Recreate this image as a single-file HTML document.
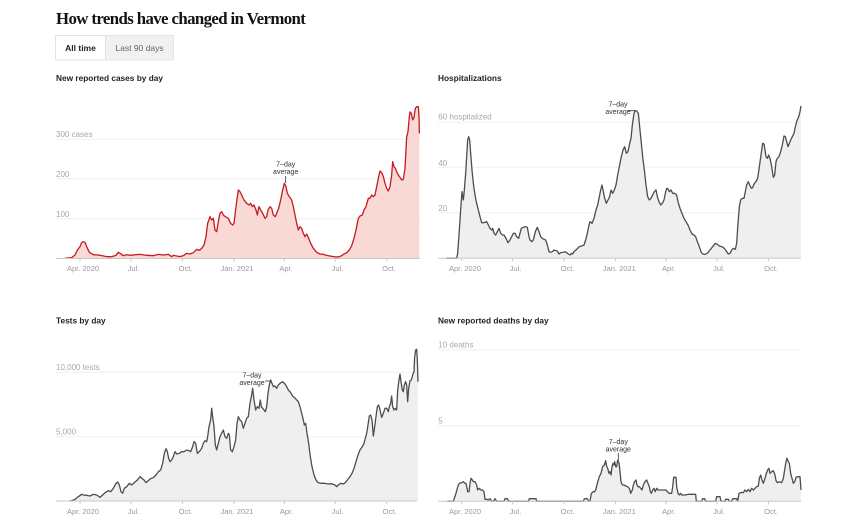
<!DOCTYPE html>
<html><head><meta charset="utf-8">
<style>
html,body{margin:0;padding:0;background:#fff;}
body{width:860px;height:528px;overflow:hidden;position:relative;font-family:"Liberation Sans",Arial,sans-serif;}
svg{position:absolute;left:0;top:0;}
.title{font-family:"Liberation Serif",serif;font-weight:bold;font-size:16.8px;letter-spacing:-0.6px;fill:#121212;}
.st{font-weight:bold;font-size:8.3px;fill:#222;}
.yl{font-size:8px;fill:#a8a8a8;}
.xl{font-size:7.5px;fill:#999;text-anchor:middle;}
.an{font-size:7px;fill:#333;text-anchor:middle;}
.grid{stroke:#efefef;stroke-width:1;}
.base{stroke:#c8c8c8;stroke-width:1;}
.tick{stroke:#c8c8c8;stroke-width:1;}
.ln{fill:none;stroke-width:1.3;stroke-linejoin:round;}
</style></head><body>
<svg width="860" height="528" viewBox="0 0 860 528" xmlns="http://www.w3.org/2000/svg">
<text x="56" y="24" class="title">How trends have changed in Vermont</text>
<!-- buttons -->
<rect x="55.5" y="35.5" width="118" height="24.5" fill="#f1f1f1" stroke="#e6e6e6"/>
<rect x="55.5" y="35.5" width="50" height="24.5" fill="#fff" stroke="#e2e2e2"/>
<text x="80.5" y="51" font-size="8.5" font-weight="bold" fill="#222" text-anchor="middle">All time</text>
<text x="139.5" y="51" font-size="8.5" fill="#666" text-anchor="middle">Last 90 days</text>

<!-- Chart 1 cases -->
<text x="56" y="81" class="st">New reported cases by day</text>
<line x1="56" x2="420" y1="139.3" y2="139.3" class="grid"/>
<line x1="56" x2="420" y1="178.7" y2="178.7" class="grid"/>
<line x1="56" x2="420" y1="218.7" y2="218.7" class="grid"/>
<text x="56" y="137" class="yl">300 cases</text>
<text x="56" y="177" class="yl">200</text>
<text x="56" y="217" class="yl">100</text>
<g transform="translate(40,90) scale(0.333333)">
<path fill="#f8d9d6" d="M75,505 L95,503 105,495 112,480 120,470 125,458 130,455 135,457 140,470 148,487 160,494 175,495 185,497 200,500 215,500 228,496 235,487 240,490 250,497 262,494 270,496 280,495 300,493 320,496 340,497 355,493 370,495 385,493 395,500 400,496 410,498 420,500 430,497 440,490 450,492 460,488 470,478 478,481 485,475 492,465 498,440 503,400 510,380 515,390 520,385 525,420 530,425 535,395 540,370 545,365 550,375 556,380 565,385 572,400 578,405 582,400 588,350 595,300 600,305 605,315 612,330 620,340 627,345 632,340 637,350 642,345 648,360 652,375 657,350 662,360 668,370 675,385 680,380 684,360 690,350 695,355 700,375 706,380 710,370 716,355 722,330 728,300 733,280 738,290 742,310 748,320 755,330 760,350 765,375 770,400 775,420 780,410 785,415 790,430 795,440 800,432 806,445 812,460 820,475 830,487 840,492 850,493 860,496 870,498 880,500 895,501 905,497 912,492 920,488 928,480 935,467 942,445 948,420 955,385 960,378 967,375 972,360 978,350 985,325 990,325 995,315 1000,320 1005,315 1010,290 1015,265 1020,243 1025,248 1030,260 1035,280 1040,295 1045,303 1050,290 1055,255 1058,215 1062,230 1066,235 1070,245 1075,255 1080,262 1085,270 1090,268 1095,235 1100,140 1104,125 1108,80 1110,66 1114,70 1118,90 1122,82 1126,55 1130,50 1135,50 1137,80 1138,130 L1138,505 Z"/>
<path class="ln" stroke="#c8191e" vector-effect="non-scaling-stroke" d="M75,505 L95,503 105,495 112,480 120,470 125,458 130,455 135,457 140,470 148,487 160,494 175,495 185,497 200,500 215,500 228,496 235,487 240,490 250,497 262,494 270,496 280,495 300,493 320,496 340,497 355,493 370,495 385,493 395,500 400,496 410,498 420,500 430,497 440,490 450,492 460,488 470,478 478,481 485,475 492,465 498,440 503,400 510,380 515,390 520,385 525,420 530,425 535,395 540,370 545,365 550,375 556,380 565,385 572,400 578,405 582,400 588,350 595,300 600,305 605,315 612,330 620,340 627,345 632,340 637,350 642,345 648,360 652,375 657,350 662,360 668,370 675,385 680,380 684,360 690,350 695,355 700,375 706,380 710,370 716,355 722,330 728,300 733,280 738,290 742,310 748,320 755,330 760,350 765,375 770,400 775,420 780,410 785,415 790,430 795,440 800,432 806,445 812,460 820,475 830,487 840,492 850,493 860,496 870,498 880,500 895,501 905,497 912,492 920,488 928,480 935,467 942,445 948,420 955,385 960,378 967,375 972,360 978,350 985,325 990,325 995,315 1000,320 1005,315 1010,290 1015,265 1020,243 1025,248 1030,260 1035,280 1040,295 1045,303 1050,290 1055,255 1058,215 1062,230 1066,235 1070,245 1075,255 1080,262 1085,270 1090,268 1095,235 1100,140 1104,125 1108,80 1110,66 1114,70 1118,90 1122,82 1126,55 1130,50 1135,50 1137,80 1138,130"/>
</g>
<line x1="56" x2="420" y1="258.5" y2="258.5" class="base"/>
<g class="tick">
<line x1="80" x2="80" y1="258.5" y2="261.5"/><line x1="130.9" x2="130.9" y1="258.5" y2="261.5"/><line x1="182.4" x2="182.4" y1="258.5" y2="261.5"/><line x1="233.9" x2="233.9" y1="258.5" y2="261.5"/><line x1="284.3" x2="284.3" y1="258.5" y2="261.5"/><line x1="335.2" x2="335.2" y1="258.5" y2="261.5"/><line x1="386.7" x2="386.7" y1="258.5" y2="261.5"/>
</g>
<text x="83" y="271" class="xl">Apr. 2020</text><text x="133.5" y="271" class="xl">Jul.</text><text x="185.5" y="271" class="xl">Oct.</text><text x="237" y="271" class="xl">Jan. 2021</text><text x="286" y="271" class="xl">Apr.</text><text x="337.5" y="271" class="xl">Jul.</text><text x="389" y="271" class="xl">Oct.</text>
<text x="285.7" y="166.5" class="an">7–day</text><text x="285.7" y="173.8" class="an">average</text>
<line x1="285.7" x2="285.7" y1="176" y2="183" stroke="#333" stroke-width="0.8"/>

<!-- Chart 2 hospitalizations -->
<text x="438" y="81" class="st">Hospitalizations</text>
<line x1="438" x2="801" y1="122.3" y2="122.3" class="grid"/>
<line x1="438" x2="801" y1="167.3" y2="167.3" class="grid"/>
<line x1="438" x2="801" y1="212.7" y2="212.7" class="grid"/>
<text x="438.3" y="119.5" class="yl">60 hospitalized</text>
<text x="438.3" y="166" class="yl">40</text>
<text x="438.3" y="211" class="yl">20</text>
<g transform="translate(430,90) scale(0.333333)">
<path id="h" fill="#efefef" d="M50,505 L80,505 83,490 88,420 92,360 96,305 100,330 103,300 107,250 110,200 113,150 116,140 119,150 122,190 126,240 130,280 135,315 140,340 145,360 150,380 155,398 162,398 170,395 175,405 180,415 185,420 188,415 192,430 197,435 202,425 207,415 212,430 218,435 222,435 228,445 234,458 240,450 245,440 250,430 255,430 260,440 266,445 270,430 274,415 280,412 287,410 292,412 297,440 300,450 305,455 310,450 316,425 322,412 327,425 332,440 337,445 342,448 347,450 352,465 357,485 362,487 367,485 372,480 377,482 382,483 387,492 392,488 400,487 405,485 410,488 415,492 420,495 424,490 428,492 432,485 438,480 443,475 448,470 455,468 462,465 467,450 472,430 476,410 480,395 486,400 492,385 498,360 503,345 508,320 512,300 516,285 520,305 524,325 529,340 534,330 539,320 543,300 548,310 553,300 558,285 563,255 568,230 574,200 579,180 584,170 589,190 594,185 598,165 603,145 607,105 612,70 615,62 620,63 625,70 628,100 633,150 638,200 643,240 648,285 653,320 658,330 663,325 668,315 673,305 678,300 682,320 687,335 692,345 697,340 702,330 706,310 710,295 714,297 718,305 723,300 728,310 734,310 740,315 744,335 750,355 756,370 762,385 768,395 774,405 780,420 786,432 792,435 797,440 802,455 808,470 813,485 818,492 825,493 832,490 840,480 848,470 856,460 862,463 868,468 874,470 880,472 885,478 890,485 895,492 900,490 905,480 910,475 916,478 920,460 924,400 928,350 932,330 937,325 942,325 946,305 950,285 955,275 959,285 964,295 968,293 973,280 978,275 983,265 988,230 993,195 998,160 1002,162 1005,180 1008,200 1012,205 1016,195 1020,205 1025,230 1030,262 1034,255 1038,215 1042,205 1047,200 1052,185 1057,165 1062,138 1066,140 1070,155 1074,170 1078,160 1082,150 1087,140 1092,130 1096,110 1100,95 1106,80 1110,65 1113,48 L1113,505 Z"/>
<path class="ln" stroke="#4d4d4d" vector-effect="non-scaling-stroke" d="M50,505 L80,505 83,490 88,420 92,360 96,305 100,330 103,300 107,250 110,200 113,150 116,140 119,150 122,190 126,240 130,280 135,315 140,340 145,360 150,380 155,398 162,398 170,395 175,405 180,415 185,420 188,415 192,430 197,435 202,425 207,415 212,430 218,435 222,435 228,445 234,458 240,450 245,440 250,430 255,430 260,440 266,445 270,430 274,415 280,412 287,410 292,412 297,440 300,450 305,455 310,450 316,425 322,412 327,425 332,440 337,445 342,448 347,450 352,465 357,485 362,487 367,485 372,480 377,482 382,483 387,492 392,488 400,487 405,485 410,488 415,492 420,495 424,490 428,492 432,485 438,480 443,475 448,470 455,468 462,465 467,450 472,430 476,410 480,395 486,400 492,385 498,360 503,345 508,320 512,300 516,285 520,305 524,325 529,340 534,330 539,320 543,300 548,310 553,300 558,285 563,255 568,230 574,200 579,180 584,170 589,190 594,185 598,165 603,145 607,105 612,70 615,62 620,63 625,70 628,100 633,150 638,200 643,240 648,285 653,320 658,330 663,325 668,315 673,305 678,300 682,320 687,335 692,345 697,340 702,330 706,310 710,295 714,297 718,305 723,300 728,310 734,310 740,315 744,335 750,355 756,370 762,385 768,395 774,405 780,420 786,432 792,435 797,440 802,455 808,470 813,485 818,492 825,493 832,490 840,480 848,470 856,460 862,463 868,468 874,470 880,472 885,478 890,485 895,492 900,490 905,480 910,475 916,478 920,460 924,400 928,350 932,330 937,325 942,325 946,305 950,285 955,275 959,285 964,295 968,293 973,280 978,275 983,265 988,230 993,195 998,160 1002,162 1005,180 1008,200 1012,205 1016,195 1020,205 1025,230 1030,262 1034,255 1038,215 1042,205 1047,200 1052,185 1057,165 1062,138 1066,140 1070,155 1074,170 1078,160 1082,150 1087,140 1092,130 1096,110 1100,95 1106,80 1110,65 1113,48"/>
</g>
<line x1="438" x2="801" y1="258.3" y2="258.3" class="base"/>
<g class="tick">
<line x1="461.7" x2="461.7" y1="258.3" y2="261.3"/><line x1="512.6" x2="512.6" y1="258.3" y2="261.3"/><line x1="564.1" x2="564.1" y1="258.3" y2="261.3"/><line x1="615.6" x2="615.6" y1="258.3" y2="261.3"/><line x1="666" x2="666" y1="258.3" y2="261.3"/><line x1="716.9" x2="716.9" y1="258.3" y2="261.3"/><line x1="768.4" x2="768.4" y1="258.3" y2="261.3"/>
</g>
<text x="465" y="271" class="xl">Apr. 2020</text><text x="515.5" y="271" class="xl">Jul.</text><text x="567.5" y="271" class="xl">Oct.</text><text x="619.3" y="271" class="xl">Jan. 2021</text><text x="668.7" y="271" class="xl">Apr.</text><text x="719" y="271" class="xl">Jul.</text><text x="771" y="271" class="xl">Oct.</text>
<text x="618" y="106.5" class="an">7–day</text><text x="618" y="114" class="an">average</text>
<line x1="628" x2="634.5" y1="110.7" y2="110.7" stroke="#333" stroke-width="0.8"/>

<!-- Chart 3 tests -->
<text x="56" y="323.5" class="st">Tests by day</text>
<line x1="56" x2="417" y1="372.3" y2="372.3" class="grid"/>
<line x1="56" x2="417" y1="436.8" y2="436.8" class="grid"/>
<text x="56" y="370" class="yl">10,000 tests</text>
<text x="56" y="434.7" class="yl">5,000</text>
<g transform="translate(40,310) scale(0.333333)">
<path fill="#efefef" d="M88,573 L95,572 105,568 115,560 125,553 130,555 140,556 150,558 160,553 170,555 180,562 188,555 195,548 205,542 212,545 220,535 228,520 233,516 238,525 243,545 248,550 253,535 260,530 268,520 275,525 283,518 292,510 300,500 306,505 312,510 318,518 325,512 333,505 340,503 348,495 355,485 362,480 368,460 373,430 378,416 382,425 386,445 390,455 395,450 400,440 405,425 410,432 418,430 425,425 432,425 440,420 447,422 452,425 458,410 462,395 467,400 472,430 478,425 485,415 490,400 495,392 500,395 503,380 507,350 512,330 515,295 518,320 522,350 526,405 530,420 535,400 540,380 545,370 550,360 555,380 560,385 565,370 568,375 572,420 577,425 582,410 587,390 591,340 595,320 600,330 605,335 610,355 615,340 620,325 625,320 630,280 635,255 638,235 642,270 647,300 652,290 657,295 661,270 664,290 668,295 672,300 676,305 680,290 684,250 688,225 692,210 696,220 700,230 705,228 710,235 715,225 720,220 728,215 735,222 740,230 745,240 750,245 756,255 760,260 766,265 770,270 775,275 780,290 785,310 790,330 793,345 797,340 801,370 806,400 811,440 816,470 822,495 828,510 834,518 845,520 855,520 865,522 875,521 885,525 890,530 895,525 902,520 910,522 916,518 922,510 930,500 936,490 942,475 948,455 954,435 960,420 967,410 972,400 976,385 980,370 984,345 988,318 992,315 996,330 1000,378 1004,350 1008,320 1012,290 1016,285 1020,300 1025,322 1030,310 1035,295 1040,295 1045,305 1048,290 1052,280 1055,258 1058,290 1062,300 1066,295 1070,300 1073,240 1077,210 1080,192 1083,215 1087,240 1090,245 1093,225 1097,215 1100,225 1103,275 1106,235 1110,212 1114,210 1118,195 1122,185 1124,140 1127,120 1130,118 1132,150 1134,215 L1134,573 Z"/>
<path class="ln" stroke="#4d4d4d" vector-effect="non-scaling-stroke" d="M88,573 L95,572 105,568 115,560 125,553 130,555 140,556 150,558 160,553 170,555 180,562 188,555 195,548 205,542 212,545 220,535 228,520 233,516 238,525 243,545 248,550 253,535 260,530 268,520 275,525 283,518 292,510 300,500 306,505 312,510 318,518 325,512 333,505 340,503 348,495 355,485 362,480 368,460 373,430 378,416 382,425 386,445 390,455 395,450 400,440 405,425 410,432 418,430 425,425 432,425 440,420 447,422 452,425 458,410 462,395 467,400 472,430 478,425 485,415 490,400 495,392 500,395 503,380 507,350 512,330 515,295 518,320 522,350 526,405 530,420 535,400 540,380 545,370 550,360 555,380 560,385 565,370 568,375 572,420 577,425 582,410 587,390 591,340 595,320 600,330 605,335 610,355 615,340 620,325 625,320 630,280 635,255 638,235 642,270 647,300 652,290 657,295 661,270 664,290 668,295 672,300 676,305 680,290 684,250 688,225 692,210 696,220 700,230 705,228 710,235 715,225 720,220 728,215 735,222 740,230 745,240 750,245 756,255 760,260 766,265 770,270 775,275 780,290 785,310 790,330 793,345 797,340 801,370 806,400 811,440 816,470 822,495 828,510 834,518 845,520 855,520 865,522 875,521 885,525 890,530 895,525 902,520 910,522 916,518 922,510 930,500 936,490 942,475 948,455 954,435 960,420 967,410 972,400 976,385 980,370 984,345 988,318 992,315 996,330 1000,378 1004,350 1008,320 1012,290 1016,285 1020,300 1025,322 1030,310 1035,295 1040,295 1045,305 1048,290 1052,280 1055,258 1058,290 1062,300 1066,295 1070,300 1073,240 1077,210 1080,192 1083,215 1087,240 1090,245 1093,225 1097,215 1100,225 1103,275 1106,235 1110,212 1114,210 1118,195 1122,185 1124,140 1127,120 1130,118 1132,150 1134,215"/>
</g>
<line x1="56" x2="417" y1="501" y2="501" class="base"/>
<g class="tick">
<line x1="80" x2="80" y1="501" y2="504"/><line x1="130.9" x2="130.9" y1="501" y2="504"/><line x1="182.4" x2="182.4" y1="501" y2="504"/><line x1="233.9" x2="233.9" y1="501" y2="504"/><line x1="284.3" x2="284.3" y1="501" y2="504"/><line x1="335.2" x2="335.2" y1="501" y2="504"/><line x1="386.7" x2="386.7" y1="501" y2="504"/>
</g>
<text x="83" y="514" class="xl">Apr. 2020</text><text x="133.5" y="514" class="xl">Jul.</text><text x="185.5" y="514" class="xl">Oct.</text><text x="237" y="514" class="xl">Jan. 2021</text><text x="286.5" y="514" class="xl">Apr.</text><text x="337.5" y="514" class="xl">Jul.</text><text x="389.5" y="514" class="xl">Oct.</text>
<text x="252" y="377.5" class="an">7–day</text><text x="252" y="385" class="an">average</text>
<line x1="265" x2="270.5" y1="381" y2="381" stroke="#333" stroke-width="0.8"/>

<!-- Chart 4 deaths -->
<text x="438" y="323.5" class="st">New reported deaths by day</text>
<line x1="438" x2="801" y1="349.7" y2="349.7" class="grid"/>
<line x1="438" x2="801" y1="425.7" y2="425.7" class="grid"/>
<text x="438.3" y="347.5" class="yl">10 deaths</text>
<text x="438.3" y="423.7" class="yl">5</text>
<g transform="translate(430,310) scale(0.333333)">
<path fill="#efefef" d="M52,574 L70,574 73,565 78,550 82,535 85,525 88,520 95,518 100,515 105,520 108,520 110,530 113,545 117,545 120,520 123,505 127,510 130,515 135,515 140,525 143,540 148,535 153,540 157,540 162,545 165,568 170,568 175,570 180,566 185,574 190,574 195,566 200,574 222,574 225,566 232,566 236,574 295,574 298,566 318,566 320,574 460,574 463,566 472,566 476,574 480,574 484,550 490,545 494,545 497,540 502,520 508,500 513,490 518,470 523,465 527,452 530,470 533,475 537,490 540,485 543,495 546,470 549,460 552,465 554,455 557,470 560,470 563,450 567,458 570,485 573,515 577,525 582,525 588,528 593,530 598,535 602,550 607,540 610,525 614,515 618,510 621,525 624,530 628,530 632,535 636,540 640,525 645,515 650,510 654,520 658,530 661,545 664,550 668,540 672,535 676,545 680,535 685,540 690,540 700,540 708,540 712,545 717,550 725,550 728,530 731,502 738,502 740,530 744,550 748,555 752,550 755,555 765,555 775,553 790,553 797,553 799,574 815,574 818,566 824,566 827,574 857,574 860,560 870,560 873,574 885,574 887,568 895,568 898,574 905,574 908,566 920,566 923,574 927,550 935,547 940,548 945,540 950,545 955,538 960,545 965,535 970,540 975,535 980,530 985,528 988,505 992,495 996,510 1000,520 1005,505 1009,490 1013,480 1017,475 1020,490 1025,485 1030,482 1035,495 1038,512 1042,518 1048,515 1055,518 1060,505 1064,480 1068,455 1071,445 1075,455 1078,460 1082,490 1086,505 1090,520 1094,515 1098,502 1104,500 1110,500 1113,540 L1113,574 Z"/>
<path class="ln" stroke="#4d4d4d" vector-effect="non-scaling-stroke" d="M52,574 L70,574 73,565 78,550 82,535 85,525 88,520 95,518 100,515 105,520 108,520 110,530 113,545 117,545 120,520 123,505 127,510 130,515 135,515 140,525 143,540 148,535 153,540 157,540 162,545 165,568 170,568 175,570 180,566 185,574 190,574 195,566 200,574 222,574 225,566 232,566 236,574 295,574 298,566 318,566 320,574 460,574 463,566 472,566 476,574 480,574 484,550 490,545 494,545 497,540 502,520 508,500 513,490 518,470 523,465 527,452 530,470 533,475 537,490 540,485 543,495 546,470 549,460 552,465 554,455 557,470 560,470 563,450 567,458 570,485 573,515 577,525 582,525 588,528 593,530 598,535 602,550 607,540 610,525 614,515 618,510 621,525 624,530 628,530 632,535 636,540 640,525 645,515 650,510 654,520 658,530 661,545 664,550 668,540 672,535 676,545 680,535 685,540 690,540 700,540 708,540 712,545 717,550 725,550 728,530 731,502 738,502 740,530 744,550 748,555 752,550 755,555 765,555 775,553 790,553 797,553 799,574 815,574 818,566 824,566 827,574 857,574 860,560 870,560 873,574 885,574 887,568 895,568 898,574 905,574 908,566 920,566 923,574 927,550 935,547 940,548 945,540 950,545 955,538 960,545 965,535 970,540 975,535 980,530 985,528 988,505 992,495 996,510 1000,520 1005,505 1009,490 1013,480 1017,475 1020,490 1025,485 1030,482 1035,495 1038,512 1042,518 1048,515 1055,518 1060,505 1064,480 1068,455 1071,445 1075,455 1078,460 1082,490 1086,505 1090,520 1094,515 1098,502 1104,500 1110,500 1113,540"/>
</g>
<line x1="438" x2="801" y1="501.3" y2="501.3" class="base"/>
<g class="tick">
<line x1="461.7" x2="461.7" y1="501.3" y2="504.3"/><line x1="512.6" x2="512.6" y1="501.3" y2="504.3"/><line x1="564.1" x2="564.1" y1="501.3" y2="504.3"/><line x1="615.6" x2="615.6" y1="501.3" y2="504.3"/><line x1="666" x2="666" y1="501.3" y2="504.3"/><line x1="716.9" x2="716.9" y1="501.3" y2="504.3"/><line x1="768.4" x2="768.4" y1="501.3" y2="504.3"/>
</g>
<text x="465" y="514" class="xl">Apr. 2020</text><text x="515.5" y="514" class="xl">Jul.</text><text x="567.5" y="514" class="xl">Oct.</text><text x="619.3" y="514" class="xl">Jan. 2021</text><text x="668.7" y="514" class="xl">Apr.</text><text x="719" y="514" class="xl">Jul.</text><text x="771" y="514" class="xl">Oct.</text>
<text x="618.3" y="444.2" class="an">7–day</text><text x="618.3" y="451.5" class="an">average</text>
<line x1="618.3" x2="618.3" y1="453" y2="460" stroke="#333" stroke-width="0.8"/>
</svg>
</body></html>
